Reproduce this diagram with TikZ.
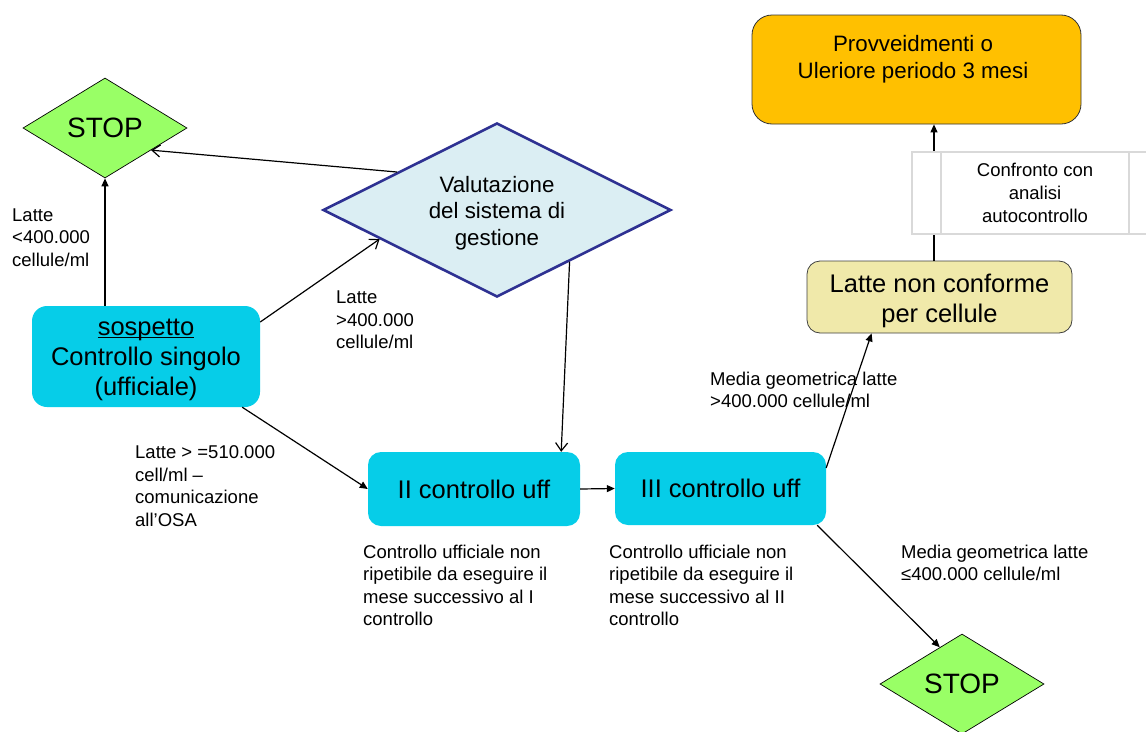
\documentclass[tikz,border=0pt]{standalone}
\usepackage{fontspec}
\setmainfont{Liberation Sans}
\usetikzlibrary{shapes.geometric,arrows.meta,calc}
\definecolor{cyanbox}{RGB}{6,205,232}
\definecolor{stopgreen}{RGB}{153,255,102}
\definecolor{valfill}{RGB}{219,238,243}
\definecolor{valdraw}{RGB}{46,49,146}
\definecolor{lncfill}{RGB}{240,233,170}
\definecolor{provfill}{RGB}{255,192,0}
\definecolor{confgray}{RGB}{217,217,217}
\newcommand\myul[1]{\setbox0\hbox{#1}\rlap{\rule[-2.6pt]{\wd0}{1.1pt}}\box0}
\begin{document}
\begin{tikzpicture}[x=1pt,y=-1pt,
  cbox/.style={rectangle, rounded corners=13pt, fill=cyanbox, draw=none, inner sep=0pt, align=center,
    font=\fontsize{25.5}{30}\selectfont},
  stopbox/.style={diamond, aspect=1.64, minimum width=164pt, minimum height=100pt, inner sep=0pt,
    fill=stopgreen, draw=black, line width=0.7pt, font=\fontsize{28}{32}\selectfont},
  valbox/.style={diamond, aspect=2, minimum width=348pt, minimum height=174pt, inner sep=0pt,
    fill=valfill, draw=valdraw, line width=2.6pt, align=center, font=\fontsize{22.3}{26.5}\selectfont},
  lbl/.style={anchor=north west, inner sep=0pt, align=left, font=\fontsize{18.5}{22.6}\selectfont},
  filled/.style={line width=1.2pt, -{Triangle[length=8pt,width=7pt]}},
  openarr/.style={line width=1.2pt, -{Straight Barb[length=8pt,width=12pt,line width=1.2pt]}},
]
\useasboundingbox[fill=white] (0,0) rectangle (1146,731);

% nodes
\node[stopbox] (stop1) at (105,128) {STOP};
\node[valbox] (val) at (497,210) {\rule{0pt}{22pt}Valutazione\\del sistema di\\gestione};
\node[cbox, minimum width=228pt, minimum height=101pt, rounded corners=15pt] (sos) at (146,356.5)
  {\rule{0pt}{23pt}\myul{sospetto}\\Controllo singolo\\(ufficiale)};
\node[cbox, minimum width=212pt, minimum height=74pt] (ii) at (474,489) {II controllo uff};
\node[cbox, minimum width=211pt, minimum height=73pt] (iii) at (720.5,488.5) {III controllo uff};
\node[stopbox] (stop2) at (962,684) {STOP};
\node[rectangle, rounded corners=13pt, fill=lncfill, draw=black!75, line width=0.8pt,
  minimum width=265pt, minimum height=72pt, inner sep=0pt, align=center,
  font=\fontsize{25.5}{30}\selectfont] (lnc) at (939.5,297) {\rule{0pt}{26.5pt}Latte non conforme\\per cellule};
\node[rectangle, rounded corners=20pt, fill=provfill, draw=black!80, line width=0.8pt,
  minimum width=329pt, minimum height=109pt, inner sep=0pt] (prov) at (916.5,69.5) {};
\node[inner sep=0pt, align=center, font=\fontsize{22.3}{27}\selectfont] (provtxt) at (913,59)
  {Provveidmenti o\\Uleriore periodo 3 mesi};

% vertical connector behind the process box
\coordinate (lt) at ($(lnc.north)+(-5.5,0)$);
\draw[filled] (lt) -- (lt |- prov.south);

\node[rectangle, fill=white, draw=confgray, line width=2pt, minimum width=246pt, minimum height=82pt,
  inner sep=0pt, align=center, font=\fontsize{18.5}{23}\selectfont] (conf) at (1035,193)
  {Confronto con\\analisi\\autocontrollo};
\draw[confgray, line width=2pt] ($(conf.north west)+(30,0)$) -- ($(conf.south west)+(30,0)$);
\draw[confgray, line width=2pt] ($(conf.north east)+(-30,0)$) -- ($(conf.south east)+(-30,0)$);

% connectors
\draw[filled] (stop1.south |- sos.north) -- (stop1.south);
\draw[openarr] ($(val.west)!0.43!(val.north)$) -- ($(stop1.east)!0.44!(stop1.south)$);
\draw[openarr] ($(sos.north east)!0.16!(sos.south east)$) -- ($(val.west)!0.33!(val.south)$);
\draw[openarr] ($(val.east)!0.586!(val.south)$) -- ($(ii.north east)+(-19,0)$);
\draw[filled] ($(sos.south east)+(-18,0)$) -- (ii.west);
\draw[filled] (ii.east) -- (iii.west);
\draw[filled] ($(iii.north east)!0.22!(iii.south east)$) -- ($(lnc.south west)+(65,0)$);
\draw[filled] ($(iii.south east)+(-9,0)$) -- ($(stop2.west)!0.73!(stop2.north)$);

% labels
\node[lbl] (l1) at (12,208.2) {Latte\\<400.000\\cellule/ml};
\node[lbl] (l2) at (336,290.5) {Latte\\>400.000\\cellule/ml};
\node[lbl] (l3) at (135,445.5) {Latte > =510.000\\cell/ml –\\comunicazione\\all’OSA};
\node[lbl] (l4) at (363,544.5) {Controllo ufficiale non\\ripetibile da eseguire il\\mese successivo al I\\controllo};
\node[lbl] (l5) at (609,544.5) {Controllo ufficiale non\\ripetibile da eseguire il\\mese successivo al II\\controllo};
\node[lbl] (l6) at (710,371.5) {Media geometrica latte\\>400.000 cellule/ml};
\node[lbl] (l7) at (901,544.5) {Media geometrica latte\\≤400.000 cellule/ml};
\end{tikzpicture}
\end{document}
